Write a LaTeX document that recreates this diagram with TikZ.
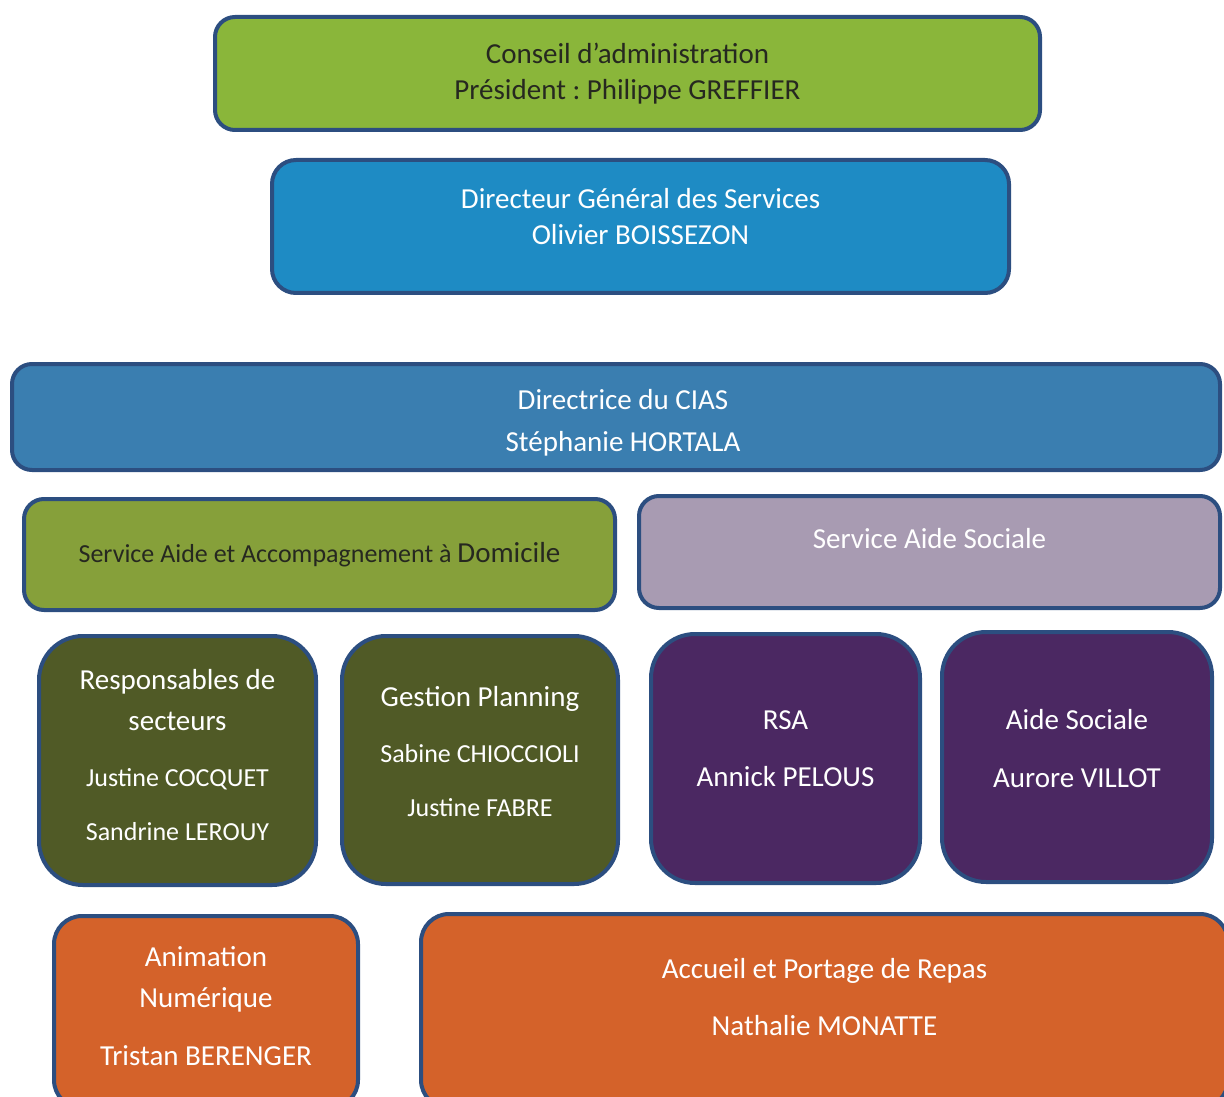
\documentclass[tikz,border=0pt]{standalone}
\usepackage{fontspec}
\setmainfont{Carlito}
\frenchspacing

\definecolor{edgeblue}{RGB}{44,78,128}
\definecolor{boardgreen}{RGB}{138,182,58}
\definecolor{dgsblue}{RGB}{30,139,196}
\definecolor{ciasblue}{RGB}{58,126,176}
\definecolor{saadgreen}{RGB}{134,160,58}
\definecolor{lavender}{RGB}{168,155,178}
\definecolor{darkolive}{RGB}{80,90,38}
\definecolor{plum}{RGB}{75,40,98}
\definecolor{rust}{RGB}{212,98,42}
\definecolor{inkdark}{RGB}{38,40,32}

% extra depth below the last line, to lift the text in its box
\newcommand{\pushup}[1]{\rule[-#1pt]{0pt}{#1pt}}
\newcommand{\nmfont}{\fontsize{13}{16}\selectfont}

\begin{document}
\begin{tikzpicture}[x=0.5pt, y=-0.5pt,
    box/.style={draw=edgeblue, line width=2pt, rounded corners=10pt,
                align=center, inner sep=0pt, text=white,
                font=\fontsize{14.5}{18}\selectfont},
    sqbox/.style={box, rounded corners=22pt},
    lowbox/.style={box, rounded corners=14pt},
    sz/.style 2 args={minimum width=#1*0.5pt, minimum height=#2*0.5pt}]
    \clip (0,0) rectangle (1224,1096);

    % Top of the chart
    \node[box, sz={825}{113}, fill=boardgreen, text=inkdark] (board) at (627.5,73.5)
        {Conseil d’administration\\Président : Philippe GREFFIER};
    \node[box, sz={737}{133}, fill=dgsblue, rounded corners=12pt] (dgs) at (640.5,226.5)
        {Directeur Général des Services\\Olivier BOISSEZON\pushup{10}};

    % CIAS
    \node[box, sz={1208}{106}, fill=ciasblue] (cias) at (616,417)
        {\hspace*{7pt}\rule{0pt}{15.5pt}Directrice du CIAS\\[3pt]\hspace*{7pt}Stéphanie HORTALA};

    % Two services
    \node[box, sz={591}{111}, fill=saadgreen, text=inkdark] (saad) at (319.5,554.5)
        {{\nmfont Service Aide et Accompagnement à }Domicile};
    \node[box, sz={581}{112}, fill=lavender] (sas) at (929.5,552)
        {Service Aide Sociale\pushup{14}};

    % Teams
    \node[sqbox, sz={277}{249}, fill=darkolive] (resp) at (177.5,760.5)
        {Responsables de\\[2.5pt]secteurs\\[10pt]{\nmfont Justine COCQUET}\\[9pt]{\nmfont Sandrine LEROUY}\pushup{6}};
    \node[sqbox, sz={276}{248}, fill=darkolive] (plan) at (480,760)
        {Gestion Planning\\[10pt]{\nmfont Sabine CHIOCCIOLI}\\[9pt]{\nmfont Justine FABRE}\pushup{9}};
    \node[sqbox, sz={269}{249}, fill=plum] (rsa) at (785.5,758.5)
        {RSA\\[10.5pt]Annick PELOUS\pushup{10}};
    \node[sqbox, sz={270}{250}, fill=plum] (aidesoc) at (1077,757)
        {Aide Sociale\\[11pt]Aurore VILLOT\pushup{9}};

    % Bottom row
    \node[lowbox, sz={304}{192}, fill=rust] (anim) at (206,1012)
        {Animation\\[2.5pt]Numérique\\[11pt]Tristan BERENGER\pushup{6}};
    \node[lowbox, sz={807}{194}, fill=rust] (repas) at (824.5,1011)
        {Accueil et Portage de Repas\\[10.5pt]Nathalie MONATTE\pushup{14}};
\end{tikzpicture}
\end{document}
